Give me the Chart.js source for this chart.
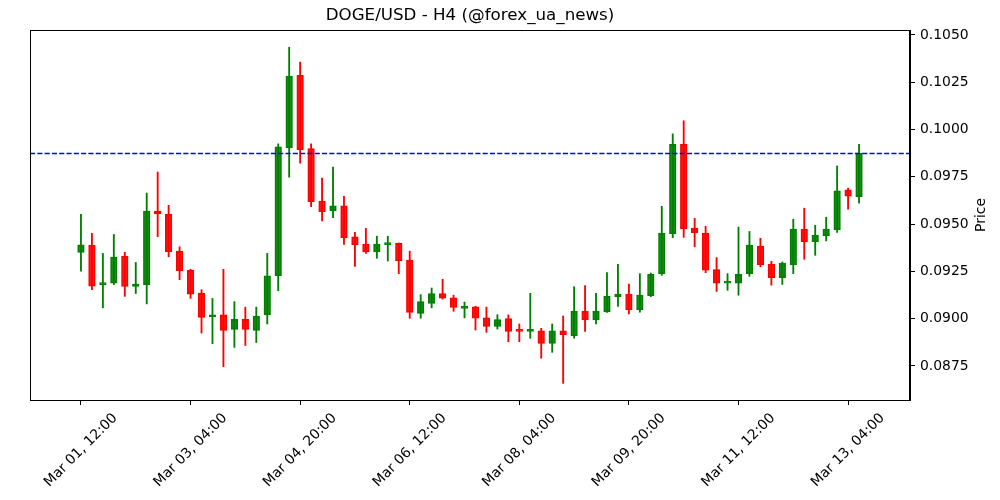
<!DOCTYPE html>
<html>
<head>
<meta charset="utf-8">
<script src="https://cdn.jsdelivr.net/npm/chart.js@4.4.1/dist/chart.umd.min.js"></script>
<style>
  html, body { margin: 0; padding: 0; background: #fff; }
  #wrap { width: 1000px; height: 500px; }
</style>
</head>
<body>
<div id="wrap"><canvas id="chart" width="1000" height="500"></canvas></div>
<script>
// DOGE/USD H4 candles, Mar 01 12:00 .. Mar 13 08:00
const opens = [0.09350,0.09389,0.09180,0.09188,0.09331,0.09170,0.09180,0.09569,0.09553,0.09357,
  0.09255,0.09134,0.09009,0.09020,0.08943,0.08996,0.08938,0.09020,0.09227,0.09904,
  0.10287,0.09899,0.09622,0.09571,0.09596,0.09432,0.09394,0.09353,0.09391,0.09400,
  0.09310,0.09028,0.09081,0.09133,0.09110,0.09054,0.09062,0.09005,0.08959,0.09000,
  0.08938,0.08933,0.08936,0.08869,0.08936,0.08910,0.09040,0.08994,0.09036,0.09115,
  0.09130,0.09047,0.09122,0.09238,0.09449,0.09921,0.09479,0.09452,0.09259,0.09188,
  0.09188,0.09238,0.09384,0.09289,0.09217,0.09285,0.09474,0.09407,0.09439,0.09470,
  0.09681,0.09645];
const highs = [0.09552,0.09451,0.09345,0.09445,0.09351,0.09297,0.09664,0.09775,0.09599,0.09380,
  0.09261,0.09153,0.09107,0.09261,0.09090,0.09061,0.09061,0.09345,0.09924,0.10435,
  0.10356,0.09924,0.09743,0.09801,0.09647,0.09456,0.09477,0.09436,0.09436,0.09400,
  0.09357,0.09127,0.09162,0.09208,0.09124,0.09088,0.09066,0.09061,0.09021,0.09020,
  0.08972,0.09134,0.08949,0.08972,0.09014,0.09169,0.09175,0.09134,0.09243,0.09287,
  0.09183,0.09238,0.09241,0.09594,0.09977,0.10046,0.09530,0.09488,0.09323,0.09238,
  0.09484,0.09461,0.09425,0.09303,0.09300,0.09526,0.09584,0.09494,0.09536,0.09807,
  0.09690,0.09922];
const lows = [0.09251,0.09153,0.09057,0.09180,0.09118,0.09133,0.09078,0.09433,0.09327,0.09206,
  0.09107,0.08924,0.08868,0.08746,0.08848,0.08858,0.08874,0.08972,0.09148,0.09748,
  0.09822,0.09592,0.09517,0.09534,0.09393,0.09276,0.09345,0.09319,0.09305,0.09238,
  0.09002,0.09002,0.09057,0.09103,0.09039,0.09004,0.08940,0.08928,0.08945,0.08878,
  0.08878,0.08896,0.08791,0.08822,0.08658,0.08897,0.08933,0.08972,0.09033,0.09065,
  0.09025,0.09034,0.09116,0.09229,0.09428,0.09430,0.09380,0.09243,0.09144,0.09150,
  0.09124,0.09224,0.09274,0.09177,0.09181,0.09238,0.09314,0.09335,0.09411,0.09456,
  0.09579,0.09610];
const closes = [0.09390,0.09172,0.09187,0.09325,0.09170,0.09183,0.09569,0.09555,0.09353,0.09252,
  0.09130,0.09007,0.09020,0.08938,0.08996,0.08943,0.09014,0.09227,0.09908,0.10282,
  0.09894,0.09619,0.09565,0.09596,0.09428,0.09391,0.09353,0.09394,0.09400,0.09306,
  0.09033,0.09090,0.09133,0.09108,0.09059,0.09065,0.09002,0.08959,0.08995,0.08933,
  0.08933,0.08938,0.08869,0.08936,0.08916,0.09040,0.08994,0.09040,0.09118,0.09130,
  0.09047,0.09124,0.09234,0.09452,0.09921,0.09475,0.09454,0.09257,0.09188,0.09197,
  0.09234,0.09389,0.09285,0.09217,0.09294,0.09474,0.09407,0.09441,0.09474,0.09676,
  0.09647,0.09875];

// x ticks sit on candle indexes
const xTickIdx = [0, 10, 20, 30, 40, 50, 60, 70];
const xTickLabels = ['Mar 01, 12:00', 'Mar 03, 04:00', 'Mar 04, 20:00', 'Mar 06, 12:00',
  'Mar 08, 04:00', 'Mar 09, 20:00', 'Mar 11, 12:00', 'Mar 13, 04:00'];
const yTicks = [0.0875, 0.0900, 0.0925, 0.0950, 0.0975, 0.1000, 0.1025, 0.1050];

const lastClose = closes[closes.length - 1];
const FONT = 'DejaVu Sans';
const GREEN = '#008000', GREEN_FILL = 'rgba(0,128,0,0.9)';
const RED = '#ff0000', RED_FILL = 'rgba(255,0,0,0.9)';

const isUp = i => closes[i] >= opens[i];
const bodies = opens.map((o, i) => ({ x: i, y: [o, closes[i]] }));
const wicks = lows.map((l, i) => ({ x: i, y: [l, highs[i]] }));

const decorPlugin = {
    id: 'decor',
    afterDatasetsDraw(chart) {
        const { ctx, chartArea: a, scales } = chart;
        // last close line
        const y = Math.round(scales.y.getPixelForValue(lastClose)) + 0.5;
        ctx.save();
        ctx.strokeStyle = '#0000ff';
        ctx.lineWidth = 1.3;
        ctx.setLineDash([5.1, 2.2]);
        ctx.beginPath();
        ctx.moveTo(a.left, y);
        ctx.lineTo(a.right, y);
        ctx.stroke();
        ctx.restore();
    },
    afterDraw(chart) {
        const { ctx, chartArea: a, scales } = chart;
        ctx.save();
        // frame
        ctx.strokeStyle = '#000';
        ctx.lineWidth = 1;
        ctx.strokeRect(a.left + 0.5, a.top + 0.5, a.right - a.left - 1, a.bottom - a.top);

        // title
        ctx.fillStyle = '#000';
        ctx.font = `16.7px "${FONT}"`;
        ctx.textAlign = 'center';
        ctx.textBaseline = 'middle';
        ctx.fillText('DOGE/USD - H4 (@forex_ua_news)', (a.left + a.right) / 2, 16);

        // x labels, rotated 45 and centred on the tick
        ctx.font = `13.9px "${FONT}"`;
        const h = 13.9;
        xTickIdx.forEach((v, k) => {
            const x = scales.x.getPixelForValue(v);
            const w = ctx.measureText(xTickLabels[k]).width;
            const box = (w + h) * Math.SQRT1_2;
            ctx.save();
            ctx.translate(x, a.bottom + 11 + box / 2);
            ctx.rotate(-Math.PI / 4);
            ctx.fillText(xTickLabels[k], 0, 0);
            ctx.restore();
        });

        // y axis title on the right
        ctx.save();
        ctx.translate(981, (a.top + a.bottom) / 2);
        ctx.rotate(-Math.PI / 2);
        ctx.fillText('Price', 0, 0);
        ctx.restore();
        ctx.restore();
    }
};

new Chart(document.getElementById('chart'), {
    type: 'bar',
    data: {
        datasets: [
            {
                label: 'body',
                data: bodies,
                backgroundColor: c => isUp(c.dataIndex) ? GREEN_FILL : RED_FILL,
                borderColor: c => isUp(c.dataIndex) ? GREEN : RED,
                borderWidth: 1,
                borderSkipped: false,
                barThickness: 6.6,
                minBarLength: 2,
                grouped: false
            },
            {
                label: 'wick',
                data: wicks,
                backgroundColor: c => isUp(c.dataIndex) ? GREEN : RED,
                borderWidth: 0,
                barThickness: 1.2,
                grouped: false
            }
        ]
    },
    options: {
        responsive: false,
        animation: false,
        layout: { padding: { top: 30, left: 30 } },
        plugins: {
            legend: { display: false },
            tooltip: { enabled: false },
            title: { display: false }
        },
        scales: {
            x: {
                type: 'linear',
                offset: false,
                min: -4.65,
                max: 75.65,
                afterBuildTicks: s => { s.ticks = xTickIdx.map(v => ({ value: v })); },
                afterFit: s => { s.height = 100; },
                ticks: { display: false },
                grid: { offset: false, drawOnChartArea: false, color: '#000', tickLength: 5, tickWidth: 1 },
                border: { display: true, color: '#000', width: 1 }
            },
            y: {
                position: 'right',
                min: 0.08570,
                max: 0.10526,
                afterBuildTicks: s => { s.ticks = yTicks.map(v => ({ value: v })); },
                afterFit: s => { s.width = 90; },
                ticks: {
                    color: '#000',
                    padding: 5,
                    font: { family: FONT, size: 13.9 },
                    callback: v => Number(v).toFixed(4)
                },
                grid: { drawOnChartArea: false, color: '#000', tickLength: 5, tickWidth: 1 },
                border: { display: true, color: '#000', width: 1 }
            }
        }
    },
    plugins: [decorPlugin]
});
</script>
</body>
</html>
